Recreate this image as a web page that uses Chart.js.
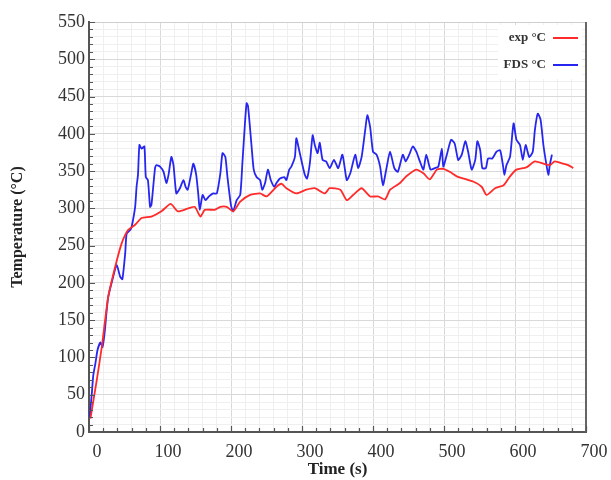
<!DOCTYPE html>
<html>
<head>
<meta charset="utf-8">
<script src="https://cdn.jsdelivr.net/npm/chart.js@4.4.1/dist/chart.umd.min.js"></script>
<style>
  html, body { margin: 0; padding: 0; background: #fff; }
</style>
</head>
<body>
<canvas id="tempChart" width="611" height="480"></canvas>
<script>
// measured series (time in s, temperature in °C)
const expTime = [2, 11, 18, 27, 37, 46, 55, 65, 74, 88, 102, 115, 125, 140, 149, 157, 163, 177, 185, 194,
  203, 213, 227, 241, 250, 264, 271, 278, 292, 306, 318, 332, 339, 354, 363, 372, 384, 396, 407, 417,
  424, 438, 447, 461, 471, 480, 490, 499, 508, 518, 541, 553, 560, 572, 584, 593, 602, 616, 628, 640,
  649, 656, 668, 675, 682];
const expTemp = [18, 70, 114, 181, 222, 253, 271, 278, 287, 289, 296, 306, 296, 300, 302, 289, 298, 298, 302, 302,
  296, 309, 318, 320, 316, 329, 333, 327, 320, 325, 327, 320, 327, 325, 311, 318, 327, 316, 316, 312,
  325, 334, 343, 352, 347, 339, 352, 353, 349, 343, 336, 329, 318, 327, 331, 343, 352, 355, 363, 360,
  358, 363, 360, 358, 354];

const fdsTime = [1, 4, 6, 9, 12, 16, 19, 22, 25, 27, 34, 39, 44, 47, 51, 53, 58, 60, 65, 67,
  69, 71, 74, 78, 80, 83, 86, 88, 93, 95, 100, 105, 109, 112, 116, 119, 123, 128, 133, 136,
  139, 144, 147, 151, 154, 156, 160, 164, 169, 175, 180, 185, 188, 192, 195, 200, 203, 208, 213, 216,
  220, 222, 224, 229, 232, 236, 241, 244, 248, 252, 256, 261, 264, 269, 275, 278, 282, 285, 290, 292,
  296, 299, 304, 307, 311, 315, 318, 322, 325, 329, 334, 339, 345, 351, 357, 363, 368, 375, 379, 384,
  389, 392, 396, 400, 405, 410, 414, 419, 424, 430, 435, 442, 446, 451, 456, 461, 466, 471, 475, 481,
  487, 492, 497, 499, 504, 510, 515, 520, 525, 530, 534, 539, 544, 547, 551, 554, 559, 562, 568, 574,
  579, 583, 585, 588, 593, 598, 602, 607, 611, 615, 620, 625, 628, 632, 636, 640, 644, 647, 649, 652];
const fdsTemp = [20, 52, 76, 92, 110, 120, 114, 133, 164, 181, 208, 224, 208, 205, 240, 266, 271, 275, 302, 329,
  345, 385, 380, 383, 342, 338, 302, 305, 354, 358, 356, 349, 334, 345, 369, 358, 320, 327, 338, 329,
  325, 347, 360, 345, 318, 298, 318, 311, 316, 320, 320, 347, 374, 369, 342, 304, 296, 311, 318, 360,
  419, 441, 437, 383, 352, 342, 338, 325, 334, 352, 338, 329, 334, 340, 342, 338, 352, 356, 369, 394,
  378, 365, 345, 340, 360, 398, 385, 374, 388, 365, 363, 354, 365, 354, 372, 338, 347, 372, 354, 369,
  405, 425, 409, 376, 372, 356, 331, 354, 376, 354, 349, 372, 363, 372, 383, 376, 363, 352, 372, 352,
  354, 356, 380, 356, 372, 392, 387, 365, 372, 390, 376, 352, 365, 390, 378, 354, 354, 367, 367, 376,
  378, 358, 345, 358, 369, 414, 392, 385, 365, 385, 369, 376, 405, 427, 419, 385, 360, 345, 358, 372];

const seriesNames = ["exp °C", "FDS °C"];
const seriesColors = ["#ff2a2a", "#2626f0"];

const xMin = 0, xMax = 700, xMinor = 20, xMajor = 100;
const yMin = 0, yMax = 550, yMinor = 10, yMajor = 50;

const serif = "'Liberation Serif', 'DejaVu Serif', serif";

function toPoints(xs, ys) {
  return xs.map((x, i) => ({ x: x, y: ys[i] }));
}

// inward tick marks, box borders and the legend inside the plot
const framePlugin = {
  id: "frame",
  afterDatasetsDraw(chart) {
    const { ctx, chartArea: a, scales } = chart;
    const xs = scales.x, ys = scales.y;
    ctx.save();

    ctx.strokeStyle = "#cfcfcf";
    ctx.lineWidth = 1;
    ctx.beginPath();
    ctx.moveTo(a.left, a.top + 0.5);
    ctx.lineTo(a.right, a.top + 0.5);
    ctx.stroke();

    ctx.strokeStyle = "#666";
    ctx.lineWidth = 2;
    ctx.beginPath();
    ctx.moveTo(a.right, a.top);
    ctx.lineTo(a.right, a.bottom);
    ctx.stroke();

    ctx.strokeStyle = "#555";
    ctx.lineWidth = 1.2;
    ctx.beginPath();
    for (let v = xMin; v <= xMax; v += xMinor) {
      const px = Math.round(xs.getPixelForValue(v)) + 0.5;
      const len = v % xMajor === 0 ? 6 : 4;
      ctx.moveTo(px, a.bottom);
      ctx.lineTo(px, a.bottom - len);
    }
    for (let v = yMin; v <= yMax; v += yMinor) {
      const py = Math.round(ys.getPixelForValue(v)) + 0.5;
      const len = v % yMajor === 0 ? 6 : 4;
      ctx.moveTo(a.left, py);
      ctx.lineTo(a.left + len, py);
    }
    ctx.stroke();

    // legend: label then line sample
    ctx.fillStyle = "#fff";
    ctx.fillRect(498, 25, 84, 54);
    ctx.font = "bold 13px " + serif;
    ctx.textAlign = "right";
    ctx.textBaseline = "middle";
    chart.data.datasets.forEach((ds, i) => {
      const y = 38 + i * 27;
      ctx.fillStyle = "#333";
      ctx.fillText(ds.label, 546, y);
      ctx.strokeStyle = ds.borderColor;
      ctx.lineWidth = 2;
      ctx.beginPath();
      ctx.moveTo(553, y);
      ctx.lineTo(578, y);
      ctx.stroke();
    });
    ctx.restore();
  }
};

new Chart(document.getElementById("tempChart"), {
  type: "line",
  data: {
    datasets: [
      {
        label: seriesNames[0],
        data: toPoints(expTime, expTemp),
        borderColor: seriesColors[0],
        borderWidth: 1.8,
        pointRadius: 0,
        tension: 0.2
      },
      {
        label: seriesNames[1],
        data: toPoints(fdsTime, fdsTemp),
        borderColor: seriesColors[1],
        borderWidth: 1.8,
        pointRadius: 0,
        tension: 0.2
      }
    ]
  },
  options: {
    responsive: false,
    animation: false,
    layout: { padding: { left: 0, right: 25, top: 22, bottom: 0 } },
    plugins: {
      legend: { display: false },
      tooltip: { enabled: false }
    },
    scales: {
      x: {
        type: "linear",
        min: xMin,
        max: xMax,
        afterFit: s => { s.height = 48; },
        ticks: {
          stepSize: xMinor,
          autoSkip: false,
          maxRotation: 0,
          labelOffset: 8,
          padding: 9,
          color: "#333",
          font: { family: serif, size: 18 },
          callback: v => (v % xMajor === 0 ? v : "")
        },
        grid: {
          drawTicks: false,
          color: c => (c.tick && c.tick.value % xMajor === 0 ? "#d9d9d9" : "#efefef")
        },
        border: { color: "#555", width: 2 },
        title: {
          display: true,
          text: "Time (s)",
          color: "#222",
          font: { family: serif, size: 17, weight: "bold" },
          padding: { top: 0, bottom: 0 }
        }
      },
      y: {
        min: yMin,
        max: yMax,
        afterFit: s => { s.width = 89; },
        ticks: {
          stepSize: yMinor,
          autoSkip: false,
          padding: 4,
          color: "#333",
          font: { family: serif, size: 18 },
          callback: v => (v % yMajor === 0 ? v : "")
        },
        grid: {
          drawTicks: false,
          color: c => (c.tick && c.tick.value % yMajor === 0 ? "#d9d9d9" : "#efefef")
        },
        border: { color: "#555", width: 2 },
        title: {
          display: true,
          text: "Temperature (°C)",
          color: "#222",
          font: { family: serif, size: 16, weight: "bold" },
          padding: { top: 8, bottom: 0 }
        }
      }
    }
  },
  plugins: [framePlugin]
});
</script>
</body>
</html>
